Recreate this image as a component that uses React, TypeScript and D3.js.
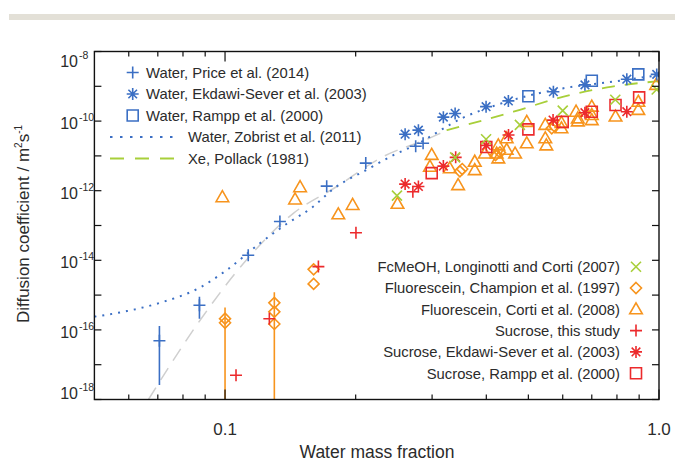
import React from 'react';
import * as d3 from 'd3';

// water mass fraction, D (m2/s)
const waterPrice: [number, number][] = [
    [0.0706, 4.9e-17], [0.0873, 5.1e-16], [0.1131, 1.4e-14], [0.1338, 1.3e-13],
    [0.1715, 1.35e-12], [0.211, 6.2e-12], [0.275, 1.9e-11], [0.286, 2.3e-11],
];
const waterPriceErr: [number, number, number][] = [
    [0.0706, 2.6e-18, 1.3e-16], [0.0873, 2.1e-16, 8.9e-16],
];
const waterEkdawi: [number, number][] = [
    [0.26, 4.2e-11], [0.279, 5.5e-11], [0.3185, 1.3e-10], [0.339, 1.66e-10],
    [0.3995, 2.6e-10], [0.4497, 3.8e-10], [0.571, 7.0e-10], [0.675, 1.1e-9],
    [0.843, 1.6e-9], [0.988, 2.2e-9],
];
const waterRampp: [number, number][] = [[0.5, 5.2e-10], [0.7, 1.45e-9], [0.896, 2.2e-9]];
const zobristCurve: [number, number][] = [
    [0.05, 2.4e-16], [0.0594, 3.47e-16], [0.0708, 6.0e-16], [0.0876, 1.66e-15],
    [0.1009, 5.25e-15], [0.1204, 3.1e-14], [0.1388, 1.12e-13], [0.1597, 3.5e-13],
    [0.1776, 1.12e-12], [0.212, 4.0e-12], [0.2443, 1.05e-11], [0.271, 1.9e-11],
    [0.354, 1.26e-10], [0.446, 3.6e-10], [0.6, 8.7e-10], [0.78, 1.35e-9], [1.0, 2.1e-9],
];
const xeCurve: [number, number][] = [
    [0.324, 5.5e-11], [0.462, 1.86e-10], [0.6, 5.0e-10], [0.78, 9.8e-10],
    [0.896, 1.23e-9], [1.0, 1.4e-9],
];
const xeExtrapolated: [number, number][] = [
    [0.0666, 1e-18], [0.0876, 1.9e-16], [0.112, 1.02e-14], [0.1437, 2.24e-13],
    [0.181, 1.32e-12], [0.2274, 8.5e-12], [0.3075, 4.0e-11], [0.324, 5.5e-11],
];
const fcmeoh: [number, number][] = [
    [0.249, 7.2e-13], [0.339, 9.1e-12], [0.3995, 3.0e-11], [0.478, 7.8e-11],
    [0.6, 2.0e-10], [0.793, 4.1e-10], [0.988, 8.1e-10],
];
const fluoChampion: [number, number][] = [
    [0.1, 2.1e-16], [0.1, 1.6e-16], [0.1299, 6.0e-16], [0.1299, 3.3e-16],
    [0.1299, 1.48e-16], [0.16, 5.5e-15], [0.16, 2.1e-15], [0.3477, 3.6e-12],
    [0.352, 4.2e-12], [0.42, 1.05e-11], [0.43, 1.26e-11], [0.566, 6.2e-11], [0.575, 7.0e-11],
];
const fluoChampionErr: [number, number, number][] = [
    [0.1, 1e-19, 4.4e-16], [0.1299, 1e-19, 1.2e-15],
];
const fluoCorti: [number, number][] = [
    [0.0986, 6.5e-13], [0.1489, 1.26e-12], [0.145, 5.6e-13], [0.1824, 2.1e-13],
    [0.1968, 3.9e-13], [0.2497, 4.2e-13], [0.2994, 1.07e-11], [0.2966, 4.9e-12],
    [0.3295, 4.4e-12], [0.3444, 1.45e-12], [0.3762, 6.8e-12], [0.3762, 3.9e-12],
    [0.397, 1.17e-11], [0.4263, 2.0e-11], [0.4226, 1.17e-11], [0.4263, 8.5e-12],
    [0.4457, 3.2e-11], [0.4457, 1.5e-11], [0.466, 1.17e-11], [0.4958, 9.5e-11],
    [0.4958, 2.3e-11], [0.547, 7.8e-11], [0.547, 3.2e-11], [0.55, 2.0e-11],
    [0.596, 8.9e-11], [0.596, 6.2e-11], [0.644, 1.86e-10], [0.65, 1.2e-10],
    [0.65, 9.8e-11], [0.7, 2.6e-10], [0.7, 1.5e-10], [0.7, 1.07e-10],
    [0.794, 1.35e-10], [0.896, 3.6e-10], [0.896, 2.1e-10], [0.985, 1.1e-9],
];
const sucroseThis: [number, number][] = [
    [0.106, 5.0e-18], [0.1265, 2.1e-16], [0.1641, 6.6e-15], [0.2003, 6.2e-14], [0.2709, 9.3e-13],
];
const sucroseEkdawi: [number, number][] = [
    [0.26, 1.55e-12], [0.279, 1.32e-12], [0.3185, 5.1e-12], [0.34, 9.1e-12],
    [0.4, 2.0e-11], [0.45, 4.0e-11], [0.57, 1.07e-10], [0.675, 1.74e-10], [0.843, 1.86e-10],
];
const sucroseRampp: [number, number][] = [
    [0.2994, 3.2e-12], [0.4, 1.8e-11], [0.5, 5.8e-11], [0.6, 9.5e-11],
    [0.7, 1.86e-10], [0.794, 2.9e-10], [0.9, 4.8e-10],
];

const xMinorTicks = [0.06, 0.07, 0.08, 0.09, 0.2, 0.3, 0.4, 0.5, 0.6, 0.7, 0.8, 0.9];
const xMajorTicks = [0.1, 1.0];
const xTickLabels = ['0.1', '1.0'];
const yExponents = [-18, -17, -16, -15, -14, -13, -12, -11, -10, -9, -8];
const yLabelExponents = [-18, -16, -14, -12, -10, -8];

const BLUE = '#3b6fc4';
const RED = '#ec2a2c';
const ORANGE = '#f7941d';
const GREEN = '#a8cf3a';
const GRAY = '#cfcfcf';
const TEXT = '#2b2b2b';
const FONT = "'Liberation Sans', Arial, Helvetica, sans-serif";

type Shape = 'plus' | 'star' | 'square' | 'triangle' | 'diamond' | 'cross';

const markerPath = (shape: Shape): string => {
    switch (shape) {
        case 'plus':
            return 'M-6,0H6M0,-6V6';
        case 'star':
            return 'M-6,0H6M0,-6V6M-4.3,-4.3L4.3,4.3M-4.3,4.3L4.3,-4.3';
        case 'square':
            return 'M-5.5,-5.5H5.5V5.5H-5.5Z';
        case 'triangle':
            return 'M0,-6.5L6.3,4.5H-6.3Z';
        case 'diamond':
            return 'M0,-5.5L5.5,0L0,5.5L-5.5,0Z';
        case 'cross':
            return 'M-5,-5L5,5M-5,5L5,-5';
    }
};

const Marker = ({ x, y, shape, color }: { x: number; y: number; shape: Shape; color: string }) => (
    <path
        d={markerPath(shape)}
        transform={`translate(${x},${y})`}
        fill='none'
        stroke={color}
        strokeWidth={1.6}
    />
);

const App = () => {
    const left = 94.4;
    const right = 659;
    const top = 51.5;
    const bottom = 399.5;

    const x = d3.scaleLog().domain([0.05, 1]).range([left, right]);
    const y = d3.scaleLog().domain([1e-18, 1e-8]).range([bottom, top]);

    const line = d3
        .line<[number, number]>()
        .x(d => x(d[0]))
        .y(d => y(d[1]))
        .curve(d3.curveMonotoneX);

    const series: { data: [number, number][]; shape: Shape; color: string }[] = [
        { data: fluoCorti, shape: 'triangle', color: ORANGE },
        { data: fluoChampion, shape: 'diamond', color: ORANGE },
        { data: sucroseRampp, shape: 'square', color: RED },
        { data: sucroseEkdawi, shape: 'star', color: RED },
        { data: sucroseThis, shape: 'plus', color: RED },
        { data: fcmeoh, shape: 'cross', color: GREEN },
        { data: waterRampp, shape: 'square', color: BLUE },
        { data: waterEkdawi, shape: 'star', color: BLUE },
        { data: waterPrice, shape: 'plus', color: BLUE },
    ];

    const topLegend: { label: string; shape?: Shape; dash?: string; color: string }[] = [
        { label: 'Water, Price et al. (2014)', shape: 'plus', color: BLUE },
        { label: 'Water, Ekdawi-Sever et al. (2003)', shape: 'star', color: BLUE },
        { label: 'Water, Rampp et al. (2000)', shape: 'square', color: BLUE },
        { label: 'Water, Zobrist et al. (2011)', dash: '2.5,7.5', color: BLUE },
        { label: 'Xe, Pollack (1981)', dash: '14,11', color: GREEN },
    ];
    const bottomLegend: { label: string; shape: Shape; color: string }[] = [
        { label: 'FcMeOH, Longinotti and Corti (2007)', shape: 'cross', color: GREEN },
        { label: 'Fluorescein, Champion et al. (1997)', shape: 'diamond', color: ORANGE },
        { label: 'Fluorescein, Corti et al. (2008)', shape: 'triangle', color: ORANGE },
        { label: 'Sucrose, this study', shape: 'plus', color: RED },
        { label: 'Sucrose, Ekdawi-Sever et al. (2003)', shape: 'star', color: RED },
        { label: 'Sucrose, Rampp et al. (2000)', shape: 'square', color: RED },
    ];

    return (
        <svg
            width={675}
            height={463}
            style={{ position: 'absolute', left: 0, top: 0, background: '#fff' }}
            fontFamily={FONT}
        >
            <rect x={9} y={14} width={666} height={6} fill='#e3e0d7' />
            <defs>
                <clipPath id='plotClip'>
                    <rect x={left} y={top} width={right - left} height={bottom - top} />
                </clipPath>
            </defs>

            <g clipPath='url(#plotClip)'>
                <path d={line(xeExtrapolated) ?? ''} fill='none' stroke={GRAY} strokeWidth={1.5} strokeDasharray='14,9' />
                <path d={line(xeCurve) ?? ''} fill='none' stroke={GREEN} strokeWidth={1.8} strokeDasharray='13,10' />
                <path d={line(zobristCurve) ?? ''} fill='none' stroke={BLUE} strokeWidth={2} strokeDasharray='2,6' />
                {waterPriceErr.map((d, i) => (
                    <line key={'be' + i} x1={x(d[0])} x2={x(d[0])} y1={y(d[1])} y2={y(d[2])} stroke={BLUE} strokeWidth={1.6} />
                ))}
                {fluoChampionErr.map((d, i) => (
                    <line key={'oe' + i} x1={x(d[0])} x2={x(d[0])} y1={y(d[1])} y2={y(d[2])} stroke={ORANGE} strokeWidth={1.6} />
                ))}
                {series.map((s, si) =>
                    s.data.map((d, i) => (
                        <Marker key={si + '-' + i} x={x(d[0])} y={y(d[1])} shape={s.shape} color={s.color} />
                    ))
                )}
            </g>

            {/* frame */}
            <rect x={left} y={top} width={right - left} height={bottom - top} fill='none' stroke='#111' strokeWidth={1.4} />

            {/* x ticks */}
            {xMinorTicks.map(t => (
                <g key={'xm' + t}>
                    <line x1={x(t)} x2={x(t)} y1={bottom} y2={bottom - 5} stroke='#111' strokeWidth={1.2} />
                    <line x1={x(t)} x2={x(t)} y1={top} y2={top + 5} stroke='#111' strokeWidth={1.2} />
                </g>
            ))}
            {xMajorTicks.map((t, i) => (
                <g key={'xM' + t}>
                    <line x1={x(t)} x2={x(t)} y1={bottom} y2={bottom - 10} stroke='#111' strokeWidth={1.2} />
                    <line x1={x(t)} x2={x(t)} y1={top} y2={top + 10} stroke='#111' strokeWidth={1.2} />
                    <text x={x(t)} y={435} textAnchor='middle' fontSize={17} fill={TEXT}>
                        {xTickLabels[i]}
                    </text>
                </g>
            ))}

            {/* y ticks */}
            {yExponents.map(e => (
                <g key={'y' + e}>
                    <line x1={left} x2={left + 7} y1={y(Math.pow(10, e))} y2={y(Math.pow(10, e))} stroke='#111' strokeWidth={1.2} />
                    <line x1={right} x2={right - 7} y1={y(Math.pow(10, e))} y2={y(Math.pow(10, e))} stroke='#111' strokeWidth={1.2} />
                </g>
            ))}
            {yLabelExponents.map(e => {
                const shift = e === -8 ? 9 : e === -18 ? -7 : 2;
                const yy = y(Math.pow(10, e)) + shift + 6;
                return (
                    <text key={'yl' + e} x={78} y={yy} textAnchor='end' fontSize={16} fill={TEXT}>
                        10
                        <tspan x={79} dy={-8} fontSize={10.5} textAnchor='start'>
                            {e}
                        </tspan>
                    </text>
                );
            })}

            {/* axis titles */}
            <text x={377} y={458} textAnchor='middle' fontSize={17.5} fill={TEXT}>
                Water mass fraction
            </text>
            <text transform='translate(29,224) rotate(-90)' textAnchor='middle' fontSize={17} fill={TEXT}>
                Diffusion coefficient / m
                <tspan dy={-7} fontSize={10}>2</tspan>
                <tspan dy={7}>s</tspan>
                <tspan dy={-7} fontSize={10}>-1</tspan>
            </text>

            {/* top-left legend */}
            {topLegend.map((l, i) => {
                const ly = 72.5 + i * 21.5;
                return (
                    <g key={'tl' + i}>
                        {l.shape ? (
                            <Marker x={132.7} y={ly} shape={l.shape} color={l.color} />
                        ) : (
                            <line x1={110} x2={175} y1={ly} y2={ly} stroke={l.color} strokeWidth={l.color === BLUE ? 2 : 1.8} strokeDasharray={l.dash} />
                        )}
                        <text x={l.shape ? 146 : 188} y={ly + 5.3} fontSize={14.8} fill={TEXT}>
                            {l.label}
                        </text>
                    </g>
                );
            })}

            {/* bottom-right legend */}
            {bottomLegend.map((l, i) => {
                const ly = 266.7 + i * 21.3;
                return (
                    <g key={'br' + i}>
                        <Marker x={636} y={ly} shape={l.shape} color={l.color} />
                        <text x={620} y={ly + 5.3} textAnchor='end' fontSize={14.8} fill={TEXT}>
                            {l.label}
                        </text>
                    </g>
                );
            })}
        </svg>
    );
};

export default App;
